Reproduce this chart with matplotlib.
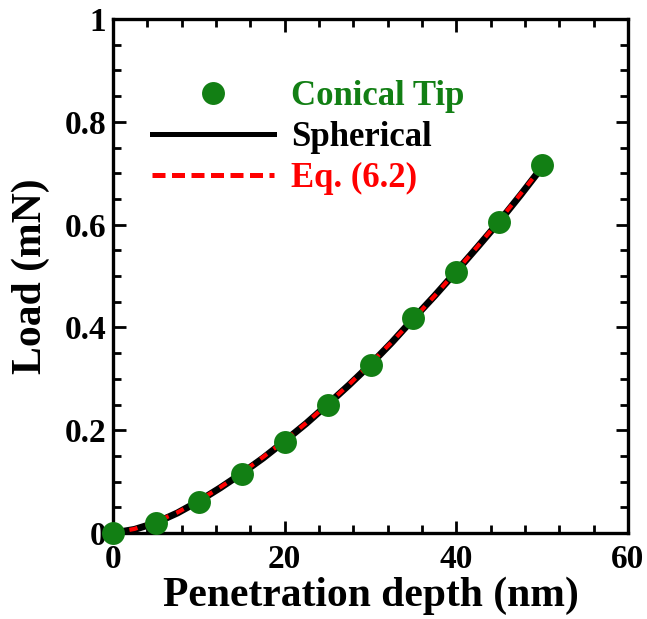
"""
Load vs. penetration depth: conical tip points against the spherical
solution and Eq. (6.2).
"""

import matplotlib

matplotlib.use("Agg")

import matplotlib.pyplot as plt
from matplotlib.lines import Line2D
from matplotlib.ticker import MultipleLocator

# ---------------------------------------------------------------------------
# Data
# ---------------------------------------------------------------------------

depth_cone = [0, 5, 10, 15, 20, 25, 30, 35, 40, 45, 50]
load_cone = [0, 0.019, 0.061, 0.115, 0.178, 0.249, 0.327, 0.419, 0.508, 0.606, 0.716]

depth_line = [0, 2.5, 5, 7.5, 10, 12.5, 15, 17.5, 20, 22.5, 25,
              27.5, 30, 32.5, 35, 37.5, 40, 42.5, 45, 47.5, 50]
load_spherical = [0, 0.007, 0.020, 0.039, 0.062, 0.088, 0.116, 0.146, 0.179, 0.213, 0.250,
                  0.288, 0.328, 0.371, 0.417, 0.462, 0.509, 0.557, 0.606, 0.658, 0.712]
load_eq62 = [0, 0.008, 0.022, 0.040, 0.063, 0.089, 0.117, 0.148, 0.180, 0.214, 0.251,
             0.289, 0.330, 0.372, 0.416, 0.462, 0.510, 0.558, 0.608, 0.660, 0.713]

GREEN = "#127f14"
RED = "#ff0000"
FONT = "Liberation Serif"

plt.rcParams["font.family"] = FONT
plt.rcParams["font.weight"] = "bold"

fig = plt.figure(figsize=(6.47, 6.19), dpi=100)
ax = fig.add_axes([0.1747, 0.1389, 0.7959, 0.8304])

ax.plot(depth_line, load_spherical, color="black", linewidth=5.0,
        solid_capstyle="butt", label="Spherical", zorder=2)
ax.plot(depth_line, load_eq62, color=RED, linewidth=3.0,
        linestyle=(0, (2.0, 2.0)), label="Eq. (6.2)", zorder=3)
(cone_pts,) = ax.plot(depth_cone, load_cone, linestyle="none", marker="o",
                      markersize=16.5, color=GREEN, markeredgewidth=0,
                      label="Conical Tip", clip_on=False, zorder=4)

ax.set_xlim(0, 60)
ax.set_ylim(0, 1)
ax.xaxis.set_major_locator(MultipleLocator(20))
ax.xaxis.set_minor_locator(MultipleLocator(4))
ax.yaxis.set_major_locator(MultipleLocator(0.2))
ax.yaxis.set_minor_locator(MultipleLocator(0.05))
ax.set_yticks([0, 0.2, 0.4, 0.6, 0.8, 1.0], ["0", "0.2", "0.4", "0.6", "0.8", "1"])

ax.tick_params(which="both", direction="in", top=True, right=True,
               width=2.0, labelsize=24)
ax.tick_params(which="major", length=9)
ax.tick_params(axis="x", which="major", pad=8)
ax.tick_params(axis="y", which="major", pad=5)
ax.tick_params(which="minor", length=6)
for spine in ax.spines.values():
    spine.set_linewidth(2.4)

ax.set_xlabel("Penetration depth (nm)", fontsize=30, fontweight="bold", labelpad=1)
ax.set_ylabel("Load (mN)", fontsize=30, fontweight="bold", labelpad=10)

# legend: separate handles so the legend lines look like the reference
leg_sph = Line2D([], [], color="black", linewidth=3.6)
leg_eq = Line2D([], [], color=RED, linewidth=3.6, linestyle=(0, (2.6, 1.3)))
leg = ax.legend([cone_pts, leg_sph, leg_eq], ["Conical Tip", "Spherical", "Eq. (6.2)"],
                loc="upper left", bbox_to_anchor=(0.076, 0.882),
                frameon=False, borderpad=0, borderaxespad=0, handlelength=3.5,
                handletextpad=0.5, labelspacing=0.24,
                prop={"family": FONT, "weight": "bold", "size": 25})
for text, color in zip(leg.get_texts(), [GREEN, "black", RED]):
    text.set_color(color)

fig.savefig("out.png", dpi=100)
plt.close(fig)
